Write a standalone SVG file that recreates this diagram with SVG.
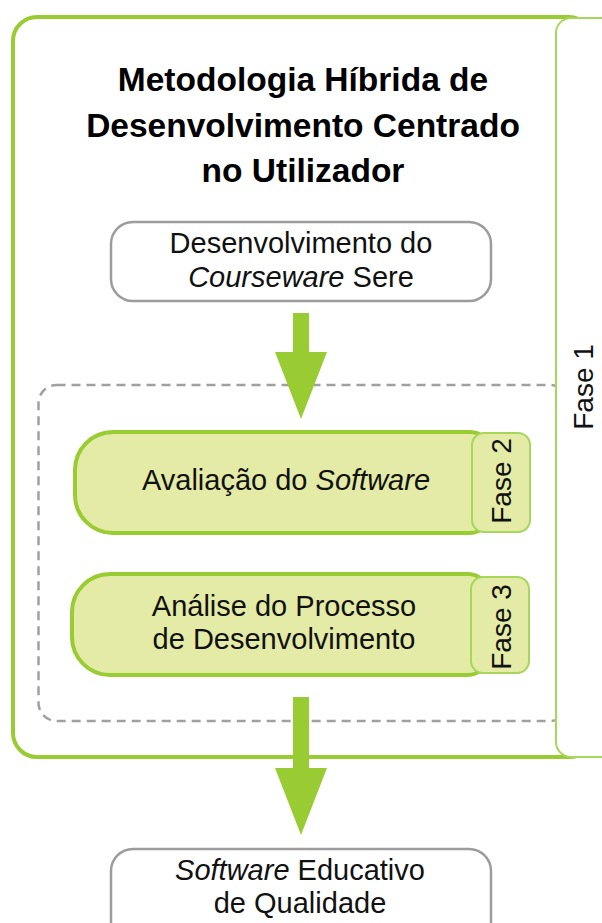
<svg xmlns="http://www.w3.org/2000/svg" width="602" height="923" viewBox="0 0 602 923">
  <style>
    .txt { font-family: "Liberation Sans", Arial, sans-serif; font-size: 29px; fill: #111; text-anchor: middle; }
    .title { font-family: "Liberation Sans", Arial, sans-serif; font-size: 33.5px; font-weight: bold; fill: #000; text-anchor: middle; }
    .phase { font-family: "Liberation Sans", Arial, sans-serif; font-size: 28px; fill: #111; text-anchor: middle; }
    .grey { fill: #fff; stroke: #9c9c9c; stroke-width: 2.5; }
    .green { fill: #e3eba6; stroke: #99cc33; stroke-width: 4; }
    .tab { fill: #e3eba6; stroke: #a6d65a; stroke-width: 2; }
    .arrow { fill: #99cc33; }
  </style>
  <rect width="602" height="923" fill="#fff"/>

  <g id="metodologia">
    <rect x="13" y="17" width="580" height="740" rx="24" fill="#fff" stroke="#99cc33" stroke-width="4"/>
    <text class="title" x="303" y="91">Metodologia Híbrida de</text>
    <text class="title" x="303" y="137">Desenvolvimento Centrado</text>
    <text class="title" x="303" y="182">no Utilizador</text>
  </g>

  <g id="grupo-fases">
    <rect x="38.5" y="385" width="530" height="336" rx="18" fill="none" stroke="#a0a0a0" stroke-width="2.5" stroke-dasharray="9 6"/>
  </g>

  <g id="fase1">
    <rect x="556" y="18" width="70" height="739" rx="15" fill="#fff" stroke="#a6d65a" stroke-width="2"/>
    <text class="phase" transform="translate(593,387) rotate(-90)">Fase 1</text>
  </g>

  <g id="desenvolvimento">
    <rect class="grey" x="111" y="222" width="380" height="79" rx="22"/>
    <text class="txt" x="301" y="253">Desenvolvimento do</text>
    <text class="txt" x="301" y="287"><tspan font-style="italic">Courseware</tspan> Sere</text>
  </g>

  <g id="avaliacao">
    <path class="green" d="M 113,432 H 470 A 20 20 0 0 1 490 452 V 513 A 20 20 0 0 1 470 533 H 113 A 38 38 0 0 1 75 495 V 470 A 38 38 0 0 1 113,432 Z"/>
    <rect class="tab" x="472" y="433" width="58" height="99" rx="12"/>
    <text class="txt" x="286" y="490">Avaliação do <tspan font-style="italic">Software</tspan></text>
    <text class="phase" transform="translate(511,481) rotate(-90)">Fase 2</text>
  </g>

  <g id="analise">
    <path class="green" d="M 110,574 H 468 A 20 20 0 0 1 488 594 V 655 A 20 20 0 0 1 468 675 H 110 A 38 38 0 0 1 72 637 V 612 A 38 38 0 0 1 110,574 Z"/>
    <rect class="tab" x="471" y="577" width="58" height="96" rx="12"/>
    <text class="txt" x="284" y="616">Análise do Processo</text>
    <text class="txt" x="284" y="649">de Desenvolvimento</text>
    <text class="phase" transform="translate(511,627) rotate(-90)">Fase 3</text>
  </g>

  <g id="software-educativo">
    <rect class="grey" x="111" y="849" width="380" height="100" rx="22"/>
    <text class="txt" x="300" y="880"><tspan font-style="italic">Software</tspan> Educativo</text>
    <text class="txt" x="300" y="913">de Qualidade</text>
  </g>

  <g id="connectors">
    <path class="arrow" d="M 293,313 H 309 V 352 H 327 L 301,419 L 275,352 H 293 Z"/>
    <path class="arrow" d="M 293,697 H 309 V 768 H 327 L 301,835 L 275,768 H 293 Z"/>
  </g>
</svg>
